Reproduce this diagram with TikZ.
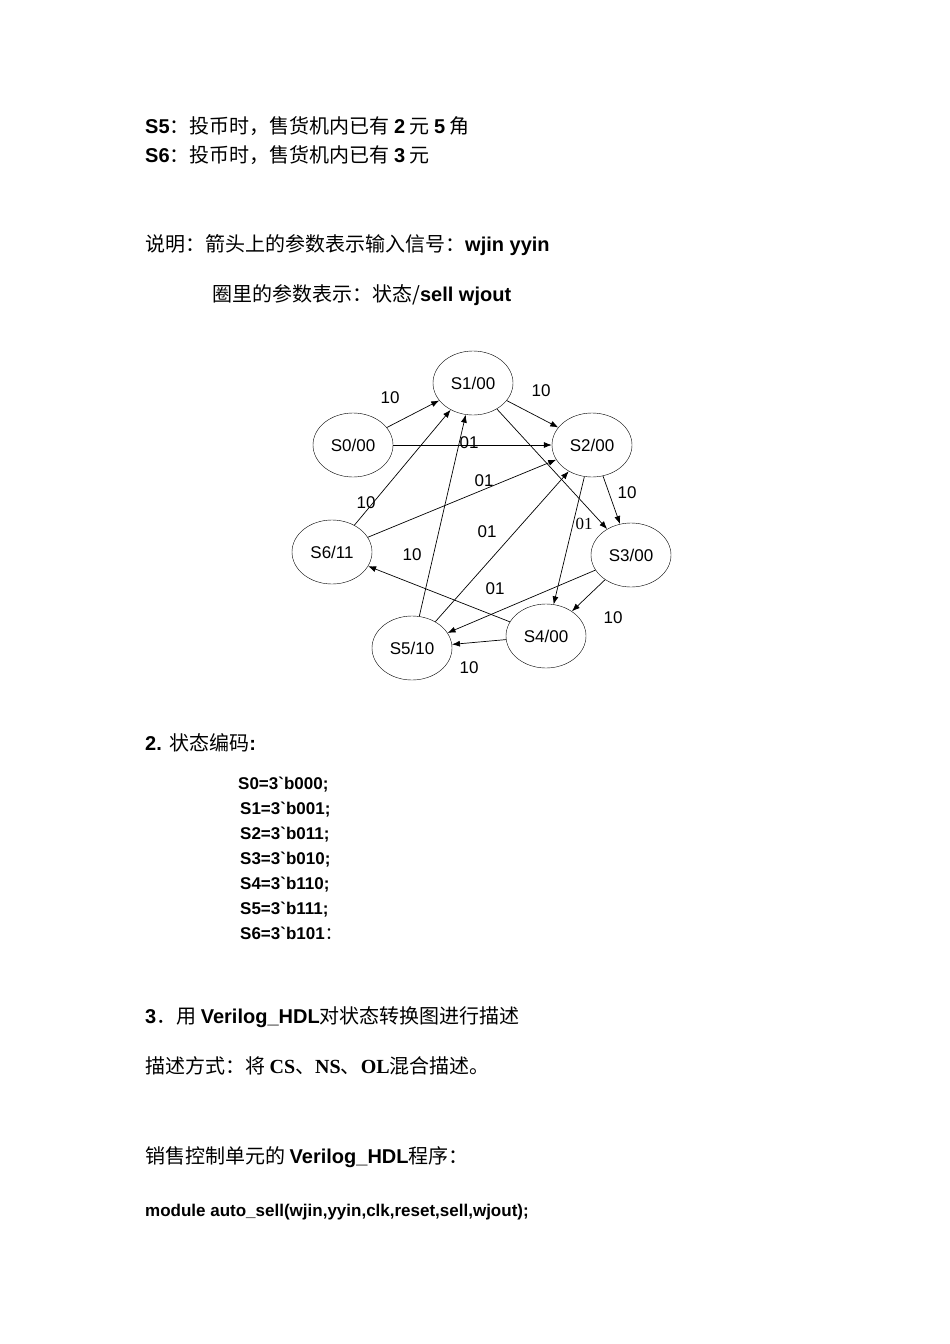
\documentclass[tikz,border=0pt]{standalone}
\usepackage{fontspec}
\setmainfont{Liberation Sans}
\newfontfamily\cjk{Noto Sans CJK SC}
\newfontfamily\lsans{Liberation Sans}
\newfontfamily\lserif{Liberation Serif}
\usetikzlibrary{arrows.meta,shapes.geometric}
\begin{document}
\begin{tikzpicture}[x=1pt,y=-1pt,
  txt/.style={anchor=base west,inner sep=0pt,font=\fontsize{20}{24}\selectfont},
  code/.style={anchor=base west,inner sep=0pt,font=\fontsize{17}{20}\selectfont\bfseries\lsans},
  st/.style={draw,ellipse,minimum width=80pt,minimum height=64pt,inner sep=0pt,font=\fontsize{17}{20}\selectfont},
  lab/.style={inner sep=0pt,font=\fontsize{17}{20}\selectfont},
  ar/.style={-{Latex[length=8pt,width=6pt]},line width=0.7pt}]
\useasboundingbox (0,0) rectangle (950,1344);
\node[txt] (t1) at (145,133) {\textbf{S5}\cjk：投币时，售货机内已有 \textbf{\lsans 2} 元 \textbf{\lsans 5} 角};
\node[txt] (t2) at (145,162) {\textbf{S6}\cjk：投币时，售货机内已有 \textbf{\lsans 3} 元};
\node[txt] (t3) at (145,251) {{\cjk 说明：箭头上的参数表示输入信号：}\textbf{wjin yyin}};
\node[txt] (t4) at (212,301) {{\cjk 圈里的参数表示：状态/}\textbf{sell wjout}};

\node[st] (S1) at (473,383) {S1/00};
\node[st] (S0) at (353,445) {S0/00};
\node[st] (S2) at (592,445) {S2/00};
\node[st] (S3) at (631,555) {S3/00};
\node[st] (S6) at (332,552) {S6/11};
\node[st] (S5) at (412,648) {S5/10};
\node[st] (S4) at (546,636) {S4/00};

\draw[ar] (S0) -- (S1);
\draw[ar] (S1) -- (S2);
\draw[ar] (S0.east) -- (S2.west);
\draw[ar] (S2) -- (S3);
\draw[ar] (S1) -- (S3);
\draw[ar] (S2) -- (S4);
\draw[ar] (S3) -- (S4);
\draw[ar] (S4) -- (S5);
\draw[ar] (S3) -- (S5);
\draw[ar] (S4) -- (S6);
\draw[ar] (S5) -- (S1);
\draw[ar] (S5) -- (S2);
\draw[ar] (S6) -- (S2);
\draw[ar] (S6) -- (S1);

\node[lab] (l1) at (390,398) {10};
\node[lab] (l2) at (541,391) {10};
\node[lab] (l3) at (469,443) {01};
\node[lab] (l4) at (627,493) {10};
\node[lab,font=\fontsize{17}{20}\selectfont\lserif] (l5) at (584,524) {01};
\node[lab] (l6) at (484,481) {01};
\node[lab] (l7) at (366,503) {10};
\node[lab] (l8) at (487,532) {01};
\node[lab] (l9) at (412,555) {10};
\node[lab] (l10) at (495,589) {01};
\node[lab] (l11) at (613,618) {10};
\node[lab] (l12) at (469,668) {10};

\node[txt] (t5) at (145,750) {\textbf{2.} {\cjk 状态编码}\textbf{:}};
\node[code] (c0) at (238,789) {S0=3\char96 b000;};
\node[code] (c1) at (240,814) {S1=3\char96 b001;};
\node[code] (c2) at (240,839) {S2=3\char96 b011;};
\node[code] (c3) at (240,864) {S3=3\char96 b010;};
\node[code] (c4) at (240,889) {S4=3\char96 b110;};
\node[code] (c5) at (240,914) {S5=3\char96 b111;};
\node[code] (c6) at (240,939) {S6=3\char96 b101{\cjk\mdseries ：}};

\node[txt] (t6) at (145,1023) {\textbf{3}{\cjk ．用 }\textbf{Verilog\_HDL}{\cjk  对状态转换图进行描述}};
\node[txt] (t7) at (145,1073) {{\cjk 描述方式：将 }\textbf{\lserif CS}{\cjk  、}\textbf{\lserif NS}{\cjk 、}\textbf{\lserif OL}{\cjk  混合描述。}};
\node[txt] (t8) at (145,1163) {{\cjk 销售控制单元的 }\textbf{Verilog\_HDL}{\cjk  程序：}};
\node[code] (t9) at (145,1216) {module auto\_sell(wjin,yyin,clk,reset,sell,wjout);};
\end{tikzpicture}
\end{document}
